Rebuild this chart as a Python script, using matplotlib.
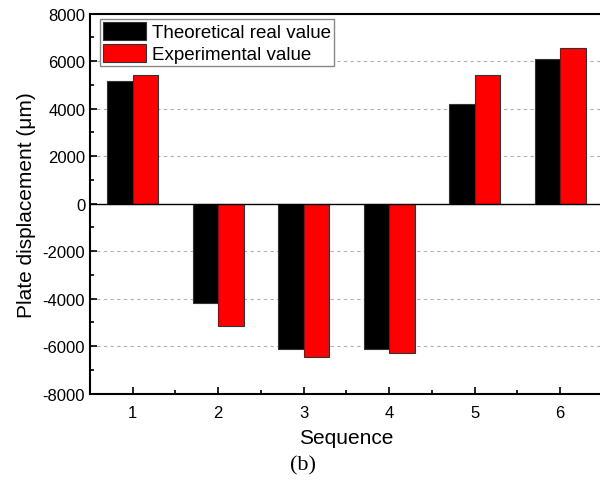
import matplotlib
matplotlib.use("Agg")
import matplotlib.pyplot as plt
from matplotlib.ticker import MultipleLocator
import numpy as np

# values
sequence = [1, 2, 3, 4, 5, 6]
theoretical = [5180, -4200, -6130, -6130, 4210, 6080]
experimental = [5430, -5140, -6470, -6300, 5420, 6540]

labels = ["Theoretical real value", "Experimental value"]
y_ticks = [-8000, -6000, -4000, -2000, 0, 2000, 4000, 6000, 8000]

plt.rcParams['font.family'] = ['Liberation Sans', 'DejaVu Sans']
plt.rcParams['axes.unicode_minus'] = False

fig = plt.figure(figsize=(6, 4.85), dpi=100)
ax = fig.add_axes([0.15, 0.186, 0.855, 0.784])

x = np.array(sequence)
w = 0.3
ax.bar(x - w/2, theoretical, w, color='black', edgecolor='#333333', linewidth=0.8,
       label=labels[0], zorder=3)
ax.bar(x + w/2, experimental, w, color='#ff0000', edgecolor='#333333', linewidth=0.8,
       label=labels[1], zorder=3)

ax.set_xlim(0.5, 6.5)
ax.set_ylim(-8000, 8000)
ax.set_xticks(sequence)
ax.set_yticks(y_ticks)
ax.xaxis.set_minor_locator(MultipleLocator(0.5))
ax.yaxis.set_minor_locator(MultipleLocator(1000))

for g in [-6000, -4000, -2000, 2000, 4000, 6000]:
    ax.axhline(g, color='#b0b0b0', linestyle=(0, (3, 3)), linewidth=0.8, zorder=1)
ax.axhline(0, color='black', linewidth=1.0, zorder=4)

ax.tick_params(which='both', direction='in', labelsize=12, width=1.2)
ax.tick_params(which='major', length=5)
ax.tick_params(which='minor', length=3)
ax.tick_params(axis='x', pad=8)
for s in ax.spines.values():
    s.set_linewidth(1.5)

ax.set_xlabel('Sequence', fontsize=15, labelpad=6)
ax.set_ylabel('Plate displacement (\u03bcm)', fontsize=15, labelpad=5)

leg = ax.legend(loc='upper left', bbox_to_anchor=(0.02, 0.985), fontsize=13.5,
                fancybox=False, framealpha=1, edgecolor='#888888',
                handlelength=2.3, handleheight=1.1, labelspacing=0.12,
                borderpad=0.15, handletextpad=0.3, borderaxespad=0.0)
leg.get_frame().set_linewidth(1.0)
leg.set_zorder(5)

fig.text(0.505, 0.04, '(b)', family=['Liberation Serif', 'DejaVu Serif'],
         fontsize=16, ha='center', va='center')
fig.text(0.49, 1.018, '(a)', family=['Liberation Serif', 'DejaVu Serif'],
         fontsize=16, ha='center', va='center')

fig.savefig('out.png', dpi=100)
